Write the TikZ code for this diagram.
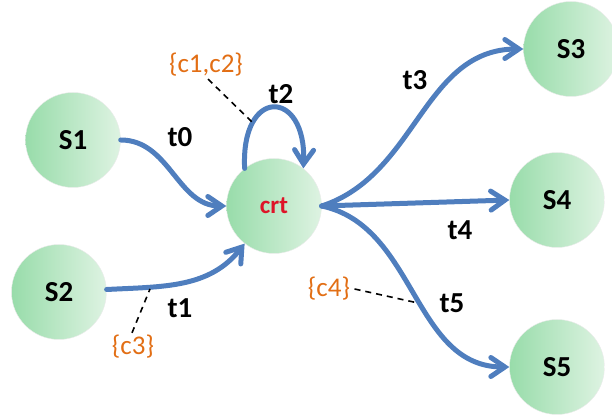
\documentclass[tikz,border=0pt]{standalone}
\usepackage{fontspec}
\setmainfont{Carlito}
\usetikzlibrary{arrows.meta}

\definecolor{arcblue}{RGB}{79,126,190}
\definecolor{condorange}{RGB}{226,110,20}
\definecolor{greenleft}{RGB}{152,220,170}
\definecolor{greenright}{RGB}{222,243,226}
\definecolor{crtred}{RGB}{222,20,40}

\tikzset{
  state/.style={circle,minimum size=95pt,inner sep=0pt,draw=black!8,
    left color=greenleft,right color=greenright,
    font=\bfseries\fontsize{29}{29}\selectfont},
  trans/.style={arcblue,line width=5pt,line cap=round,
    -{Straight Barb[length=14pt,width=19pt,line cap=round]}},
  tlabel/.style={font=\bfseries\fontsize{29}{29}\selectfont},
  cond/.style={condorange,font=\fontsize{27}{27}\selectfont},
  link/.style={line width=1.6pt,dash pattern=on 6pt off 5pt}
}

\begin{document}
\begin{tikzpicture}[x=1pt,y=1pt]
\useasboundingbox (0,0) rectangle (612,419);

% states
\node[state] (s1) at (73,279) {S1};
\node[state] (s2) at (59,127) {S2};
\node[state,font=\bfseries\fontsize{25}{25}\selectfont,text=crtred] (crt) at (274,213) {crt};
\node[state] (s3) at (571,370) {S3};
\node[state] (s4) at (557,219) {S4};
\node[state] (s5) at (557,52) {S5};

% transitions
\draw[trans] (s1) to[out=0,in=180] (crt);
\draw[trans] (s2) to[out=3,in=232] (crt);
\draw[trans] (crt.128) .. controls +(-4,82) and +(3,80) .. (crt.52);
\draw[trans] (crt.east) to[out=18,in=180] (s3);
\draw[trans] (crt.east) -- (s4.west);
\draw[trans] (crt.east) to[out=-12,in=180] (s5);

\node[tlabel] (t0) at (180,282) {t0};
\node[tlabel] (t1) at (180,111) {t1};
\node[tlabel] (t2) at (281,325) {t2};
\node[tlabel] (t3) at (415,339) {t3};
\node[tlabel] (t4) at (460,189) {t4};
\node[tlabel] (t5) at (452,116) {t5};

% conditions
\node[cond] (c12) at (206,354) {\{c1,c2\}};
\node[cond] (c3) at (133,72) {\{c3\}};
\node[cond] (c4) at (329,130) {\{c4\}};

\coordinate (p12) at (252,297);
\coordinate (p3) at (150,130);
\coordinate (p4) at (418,116);
\draw[link] (c12.south) ++(2,1) -- (p12);
\draw[link] (c3.north) ++(-1,-1) -- (p3);
\draw[link] (c4.east) ++(1,0) -- (p4);
\end{tikzpicture}
\end{document}
